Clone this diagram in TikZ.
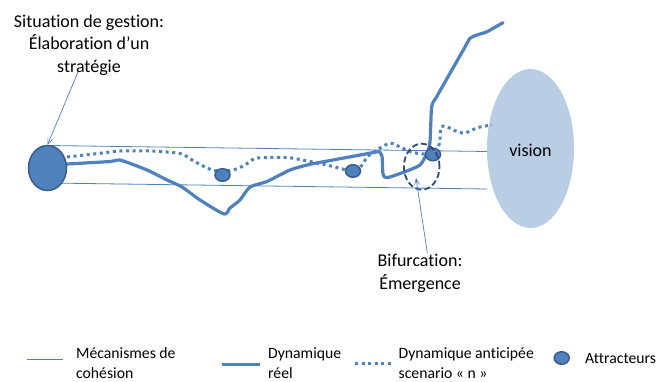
\documentclass[tikz,border=0pt]{standalone}
\usepackage{fontspec}
\setmainfont{Carlito}[Ligatures=NoCommon]
\usetikzlibrary{arrows.meta,shapes.geometric}
\definecolor{ob}{HTML}{4F81BD}
\definecolor{obd}{HTML}{385D8A}
\definecolor{vis}{HTML}{B9CDE5}
\definecolor{dk}{HTML}{2C4D75}
\tikzset{
  bigtxt/.style={font=\fontsize{18}{22.5}\selectfont, align=center, inner sep=0pt, text=black},
  legtxt/.style={font=\fontsize{15.7}{20}\selectfont, align=left, inner sep=0pt, anchor=west, text=black},
  cohesion/.style={draw=ob, line width=0.8pt},
  reel/.style={draw=ob, line width=3.2pt, line join=round, line cap=round},
  antic/.style={draw=ob, line width=3pt, dash pattern=on 3pt off 3.6pt},
  attr/.style={ellipse, fill=ob, draw=obd, line width=1.5pt, minimum width=15pt, minimum height=12.5pt, inner sep=0pt},
  pointer/.style={draw=ob, line width=0.7pt, -{Straight Barb[length=6pt,width=5pt]}},
}
\begin{document}
\begin{tikzpicture}[x=1pt,y=-1pt]
\useasboundingbox (0,0) rectangle (658,382);

% vision
\node[ellipse, fill=vis, minimum width=87pt, minimum height=159pt, inner sep=0pt] (vision) at (530.5,148.5) {};
\node[bigtxt] (visiontxt) at (530.5,150) {vision};

% cohesion lines
\draw[cohesion] (48,145.5) -- (487,151.5);
\draw[cohesion] (48,183) -- (487,189);

% anticipated dynamics (dotted)
\draw[antic] plot[smooth, tension=0.5] coordinates {(67,157) (100,153.3) (120,151) (150,151) (180,153.5) (192,160) (207,168) (218,171) (233,170) (245,165) (255,158.5) (270,157.5) (287,157.5) (300,159.5) (317,163) (333,166.5) (347,170) (356,170) (363,164) (367,157) (377,150) (390,143) (398,146) (410,151.5) (422,154) (430,153) (438,147) (440,140) (441,127) (447,127) (458,132) (465,133) (472,130) (480,127) (492,125)};

% real dynamics (solid)
\draw[reel] plot[smooth, tension=0.4] coordinates {(67,164) (110,161.5) (120,160) (147,170) (167,180) (182,187) (200,200) (224,214) (230,208) (240,200) (250,187) (267,181.5) (290,170) (310,164.3) (333,160) (379,151.5)};
\draw[reel] plot[smooth, tension=0.4] coordinates {(379,151.5) (382,156) (383,174) (387,177.7) (405,171.7) (420,165) (427,153) (430,141.7) (431.7,106.7) (436.7,96.7) (450,73.3) (463.3,50) (470,38.3) (477,35) (487,31.7) (503,22.7)};

% start ellipse
\node[ellipse, fill=ob, draw=obd, line width=1.5pt, minimum width=38pt, minimum height=45pt, inner sep=0pt] (start) at (47.5,168) {};

% attractors
\node[attr] (a1) at (222.5,175) {};
\node[attr] (a2) at (353,171) {};
\node[attr] (a3) at (433,154.5) {};

% bifurcation circle
\node[ellipse, draw=dk, line width=1.8pt, dash pattern=on 6pt off 3pt, minimum width=35.6pt, minimum height=46pt, inner sep=0pt] (bif) at (421.7,166.7) {};

% labels
\node[bigtxt] (strat) at (89,45) {Situation de gestion:\\Élaboration d’un\\stratégie};
\coordinate (stratfoot) at (78,72);
\draw[pointer] (stratfoot) -- (start.north);

\node[bigtxt] (biftxt) at (420,273.5) {Bifurcation:\\Émergence};
\coordinate (biffoot) at (427.3,253);
\coordinate (biftip) at (416,178);
\draw[pointer] (biffoot) -- (biftip);

% legend
\coordinate (l1a) at (27,359); \coordinate (l1b) at (63,359);
\draw[cohesion] (l1a) -- (l1b);
\node[legtxt] (leg1) at (76,363) {Mécanismes de\\cohésion};

\coordinate (l2a) at (222,364.5); \coordinate (l2b) at (260,364.5);
\draw[draw=ob, line width=3.5pt] (l2a) -- (l2b);
\node[legtxt] (leg2) at (268,363) {Dynamique\\réel};

\coordinate (l3a) at (355,363.3); \coordinate (l3b) at (394,363.3);
\draw[antic] (l3a) -- (l3b);
\node[legtxt] (leg3) at (398.5,363) {Dynamique anticipée\\scenario « n »};

\node[attr] (a4) at (561.7,358) {};
\node[legtxt] (leg4) at (585,359) {Attracteurs};
\end{tikzpicture}
\end{document}
